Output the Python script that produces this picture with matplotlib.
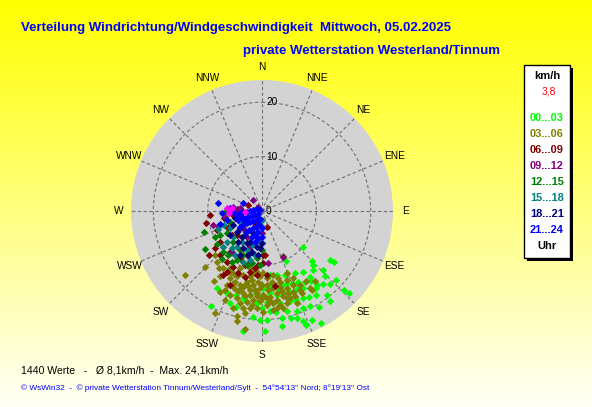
import numpy as np
import matplotlib
matplotlib.use("Agg")
import matplotlib.pyplot as plt
from matplotlib.patches import Rectangle
import matplotlib.transforms as mtransforms

plt.rcParams['font.family'] = ['Liberation Sans', 'DejaVu Sans']

# ---------------- data (direction in degrees, speed in km/h) ----------------
lime_dir = [131, 154, 135, 126, 125.5, 137, 139, 146, 152, 160, 167, 173, 144, 134, 136, 133, 137, 140, 143.5, 145,
            149, 153, 157, 161, 165, 168, 174, 179, 145, 152, 156, 161, 165.5, 170, 174.5, 179, 184, 188, 192, 197,
            203, 210, 134, 133, 142, 147, 151, 155, 159, 163, 169, 173, 177, 183, 190, 195, 199, 208, 143, 149,
            153, 157, 161, 166, 172, 175.5, 180, 185, 181, 177.5, 169.6, 165, 162, 159.5, 155.5, 152, 159, 170, 178.6, 189]
lime_spd = [10.1, 10.2, 12.9, 15.4, 16.2, 13.7, 14.3, 13.5, 13.0, 12.6, 12.0, 11.8, 14.9, 15.6, 16.6, 18.7, 18.4, 17.6, 16.9, 15.8,
            15.2, 14.6, 14.5, 14.0, 14.0, 14.5, 13.7, 14.2, 17.4, 16.1, 15.8, 15.7, 15.6, 15.6, 15.2, 15.4, 15.1, 15.6, 16.4, 16.1,
            16.4, 16.4, 21.0, 22.0, 19.5, 18.4, 18.0, 17.7, 17.5, 17.4, 17.3, 17.1, 16.7, 17.0, 16.9, 18.2, 17.9, 19.8, 20.8, 20.5,
            19.6, 19.4, 19.5, 19.0, 18.7, 18.5, 17.9, 19.5, 20.0, 20.0, 20.0, 20.3, 20.7, 21.7, 22.0, 23.3, 22.4, 21.5, 22.1, 22.4]

olive_dir = [154.6, 225.3, 230.3, 221.8, 226.9, 214, 207.8, 201, 191.8, 187.9, 181.7, 176, 170, 165.7, 160.3, 157, 152.8, 147.7, 148, 154.3,
             158.9, 164, 170.6, 177, 183.6, 188, 205.5, 200.3, 196.6, 192.2, 186.7, 181.5, 176.4, 171.7, 166.6, 162.3, 158.8, 154.3, 200.9, 196.2,
             192.8, 188.6, 183.7, 179, 174.7, 169.9, 166, 162.2, 193.4, 189.6, 185.6, 181.3, 177.2, 173, 169.2, 165, 159.4, 196.4, 190.9, 187,
             183.1, 179.2, 173.5, 167.6, 193.5, 189.4, 188.2, 192.9, 204.7, 202.6, 207.5, 214.6, 212.6, 205.4, 201.1, 196.3, 190.4, 185, 178.8, 172.2,
             166.4, 158.4, 155, 147.8, 143.1, 209.2, 204.7, 217.3,
             200.9, 194.7, 190.2, 185.1, 180.3, 175.4, 170, 166.3, 162.3, 180.2, 191.2, 196.4, 202.3, 205.1, 186.3, 175, 171.4, 183, 188.5, 192.9]
olive_spd = [9.1, 14.7, 18.4, 12.5, 11.8, 12.7, 12.6, 11.3, 10.7, 11.5, 12.0, 12.4, 11.9, 13.4, 13.4, 14.7, 15.3, 15.3, 16.7, 16.8,
             16.8, 16.7, 16.6, 16.0, 15.7, 15.6, 15.0, 15.1, 14.2, 13.3, 13.7, 14.2, 13.6, 14.3, 14.3, 14.9, 15.9, 16.1, 16.5, 16.7,
             15.5, 14.7, 15.1, 15.4, 15.8, 15.3, 16.2, 16.8, 17.4, 16.9, 16.4, 16.6, 17.3, 17.1, 17.6, 17.5, 18.1, 18.6, 18.2, 18.0,
             17.9, 18.5, 18.3, 18.3, 19.9, 19.0, 21.9, 20.8, 20.7, 17.7, 16.7, 15.7, 14.3, 13.7, 12.9, 12.2, 12.2, 11.2, 11.4, 13.1,
             12.7, 12.3, 13.6, 17.1, 16.2, 12.0, 12.6, 13.2,
             13.9, 14.7, 14.1, 14.6, 13.6, 14.5, 13.8, 15.2, 15.9, 16.0, 16.0, 15.4, 14.7, 16.0, 17.4, 16.7, 18.1, 13.0, 12.8, 13.9]

maroon_dir = [257.7, 265.6, 230.6, 233.9, 259, 262.1, 218.2, 204.9, 197.5, 191.2, 187, 183.9, 178.5, 163.4, 176.1, 214.9, 207.2, 200.8, 194.5, 231.5,
              223.7, 199.2, 226.5, 242.8, 211.1, 170.3, 175.8, 184.8, 193.3, 203.4, 210.2, 231.6, 227.1, 209.6, 178.3, 247.3, 259.7, 293.7]
maroon_spd = [10.55, 9.57, 12.73, 9.54, 7.04, 5.31, 9.49, 9.58, 10.39, 11.35, 10.6, 9.93, 9.6, 3.0, 8.09, 11.33, 11.49, 12.23, 12.45, 11.01,
              11.16, 8.55, 6.4, 6.95, 13.72, 14.09, 11.77, 11.78, 9.55, 14.8, 12.88, 7.1, 4.67, 2.6, 8.08, 9.02, 4.1, 2.74]

purple_dir = [321.8, 276.9, 268.8, 261.3, 254, 278.6, 273.8, 188.1, 180.9, 173.1, 155, 210.9, 319.8, 227.1, 198.6, 216.7, 251.4]
purple_spd = [2.57, 4.07, 5.87, 6.87, 9.29, 5.32, 4.66, 2.6, 4.1, 9.67, 9.25, 5.49, 1.04, 4.67, 6.9, 9.31, 8.45]

green_dir = [250.4, 236.3, 241.4, 233.3, 220, 269, 223.6, 217.4, 210.9, 207.3, 203, 195.9, 191.2, 186.4, 180.5, 223.1, 209.4, 237.7, 240.3, 251.6, 182.1]
green_spd = [11.3, 12.57, 9.83, 10.23, 11.5, 6.79, 10.3, 10.17, 10.84, 10.12, 8.77, 10.3, 9.79, 8.74, 7.16, 7.7, 8.22, 7.67, 8.88, 6.19, 9.91]

teal_dir = [247.6, 249.8, 241.6, 228.2, 229, 219.1, 215.4, 213.6, 201.5, 196.9, 189, 183.7, 182, 181.2, 200.2, 193.8, 211.5, 227.3, 244.1, 194.5]
teal_spd = [8.67, 7.43, 6.68, 7.06, 8.59, 8.83, 8.03, 6.75, 7.69, 6.52, 8.18, 5.64, 1.65, 2.88, 9.91, 9.25, 9.47, 9.65, 4.49, 3.92]

navy_dir = [231.8, 215.3, 201.4, 188.5, 205.4, 218.4, 230.8, 194.3, 184.8, 206.6, 197.3, 183.1, 201.2, 244, 233.1, 217.7, 237.9, 254.8, 180.6, 206.6]
navy_spd = [5.14, 5.4, 6.04, 6.62, 6.57, 6.0, 6.0, 7.7, 8.1, 7.66, 8.45, 6.86, 4.4, 5.85, 7.34, 7.1, 3.68, 5.13, 5.93, 9.03]

blue_dir = [296.6, 290.6, 276.6, 270, 267.5, 265.9, 264, 261, 227.7, 240.3, 245.7, 247.5, 248.6, 250.2, 249.2, 194, 210.6, 220.9, 228.4, 231.2,
            233.1, 234.5, 190.8, 201, 208.3, 213.7, 217.7, 190, 196.3, 202, 187.6, 192.9, 181, 180.7, 280, 266.7, 255.7, 252.4, 294.1, 275, 268.7]
blue_spd = [0.41, 1.05, 1.6, 2.2, 2.8, 3.43, 4.06, 4.7, 0.91, 1.48, 2.08, 2.7, 3.35, 3.97, 4.65, 1.5, 1.92, 2.43, 2.95, 3.61,
            4.28, 4.96, 2.6, 3.08, 3.61, 4.19, 4.8, 3.85, 4.59, 5.08, 5.06, 5.77, 3.18, 4.71, 8.13, 7.41, 6.69, 8.08, 3.75, 5.89, 5.26]

magenta_dir = [274.9, 271.8, 266, 266.6, 276.3]
magenta_spd = [6.45, 5.87, 6.13, 3.12, 5.6]

hour_labels = ['00...03', '03...06', '06...09', '09...12', '12...15', '15...18', '18...21', '21...24']
hour_colors = ['#00FF00', '#808000', '#800000', '#800080', '#008000', '#008080', '#000080', '#0000FF']

compass = ['N', 'NNE', 'NE', 'ENE', 'E', 'ESE', 'SE', 'SSE', 'S', 'SSW', 'SW', 'WSW', 'W', 'WNW', 'NW', 'NNW']
ring_values = [0, 10, 20]
RMAX = 24.1

title = 'Verteilung Windrichtung/Windgeschwindigkeit  Mittwoch, 05.02.2025'
subtitle = 'private Wetterstation Westerland/Tinnum'
stats = '1440 Werte   -   Ø 8,1km/h  -  Max. 24,1km/h'
footer = "© WsWin32  -  © private Wetterstation Tinnum/Westerland/Sylt  -  54°54'13'' Nord; 8°19'13'' Ost"
current_speed = '3,8'

# ---------------- figure ----------------
W, H = 592, 407
fig = plt.figure(figsize=(W / 100, H / 100), dpi=100)

# background gradient
bg = fig.add_axes([0, 0, 1, 1], zorder=-10)
t = np.linspace(0, 1, 256)
top = np.array([1.0, 1.0, 0.0])
bot = np.array([1.0, 1.0, 0.97])
img = top[None, :] * (1 - t[:, None]) + bot[None, :] * t[:, None]
bg.imshow(img[:, None, :], aspect='auto', extent=[0, 1, 0, 1])
bg.axis('off')

# polar axes: centre (262,211) px, radius 131 px
cx, cy, R = 262, 211, 131
ax = fig.add_axes([(cx - R) / W, 1 - (cy + R) / H, 2 * R / W, 2 * R / H], projection='polar')
ax.set_theta_zero_location('N')
ax.set_theta_direction(-1)
ax.set_ylim(0, RMAX)
ax.set_facecolor('#d3d3d3')
ax.spines['polar'].set_visible(False)
ax.set_xticks(np.deg2rad(np.arange(0, 360, 22.5)))
ax.set_xticklabels([])
ax.set_yticks([10, 20])
ax.set_yticklabels([])
ax.grid(True, color='#707070', linestyle=(0, (3, 2.2)), linewidth=0.8)
ax.set_axisbelow(True)

groups = [
    (lime_dir, lime_spd, hour_colors[0]),
    (olive_dir, olive_spd, hour_colors[1]),
    (maroon_dir, maroon_spd, hour_colors[2]),
    (purple_dir, purple_spd, hour_colors[3]),
    (green_dir, green_spd, hour_colors[4]),
    (teal_dir, teal_spd, hour_colors[5]),
    (navy_dir, navy_spd, hour_colors[6]),
    (blue_dir, blue_spd, hour_colors[7]),
    (magenta_dir, magenta_spd, '#FF00FF'),
]
for d, s, c in groups:
    ax.scatter(np.deg2rad(d), s, marker='D', s=14, color=c, linewidths=0, zorder=3)

for i, lab in enumerate(compass):
    ax.text(np.deg2rad(i * 22.5), 26.4, lab, ha='center', va='center',
            fontsize=7.3, color='black', clip_on=False)

trans = mtransforms.offset_copy(ax.transData, fig=fig, x=4, y=0, units='dots')
for rv in ring_values:
    ax.text(0, rv, str(rv), transform=trans, ha='left', va='center', fontsize=7.3, color='black', zorder=4)

# overlay in pixel coordinates
ov = fig.add_axes([0, 0, 1, 1], zorder=10)
ov.set_xlim(0, W)
ov.set_ylim(H, 0)
ov.axis('off')

ov.text(21, 30.5, title, color='#0000FF', fontsize=9.5, fontweight='bold', ha='left', va='baseline')
ov.text(243, 54, subtitle, color='#0000FF', fontsize=9.5, fontweight='bold', ha='left', va='baseline')
ov.text(21, 373.5, stats, color='black', fontsize=7.6, ha='left', va='baseline')
ov.text(21, 389.5, footer, color='#0000FF', fontsize=5.95, ha='left', va='baseline')

# legend box
ov.add_patch(Rectangle((527, 68), 46, 193, facecolor='black', edgecolor='none'))
ov.add_patch(Rectangle((524, 65), 46, 193, facecolor='white', edgecolor='black', linewidth=1))
lx = 547
ov.text(lx, 79, 'km/h', color='black', fontsize=8, fontweight='bold', ha='center', va='baseline')
ov.text(lx + 2, 94.5, current_speed, color='#FF0000', fontsize=7.3, ha='center', va='baseline')
for k, (lab, col) in enumerate(zip(hour_labels, hour_colors)):
    ov.text(lx, 120.7 + 16 * k, lab, color=col, fontsize=7.9, fontweight='bold', ha='center', va='baseline')
ov.text(lx, 249, 'Uhr', color='black', fontsize=8, fontweight='bold', ha='center', va='baseline')

fig.savefig('out.png', dpi=100)
